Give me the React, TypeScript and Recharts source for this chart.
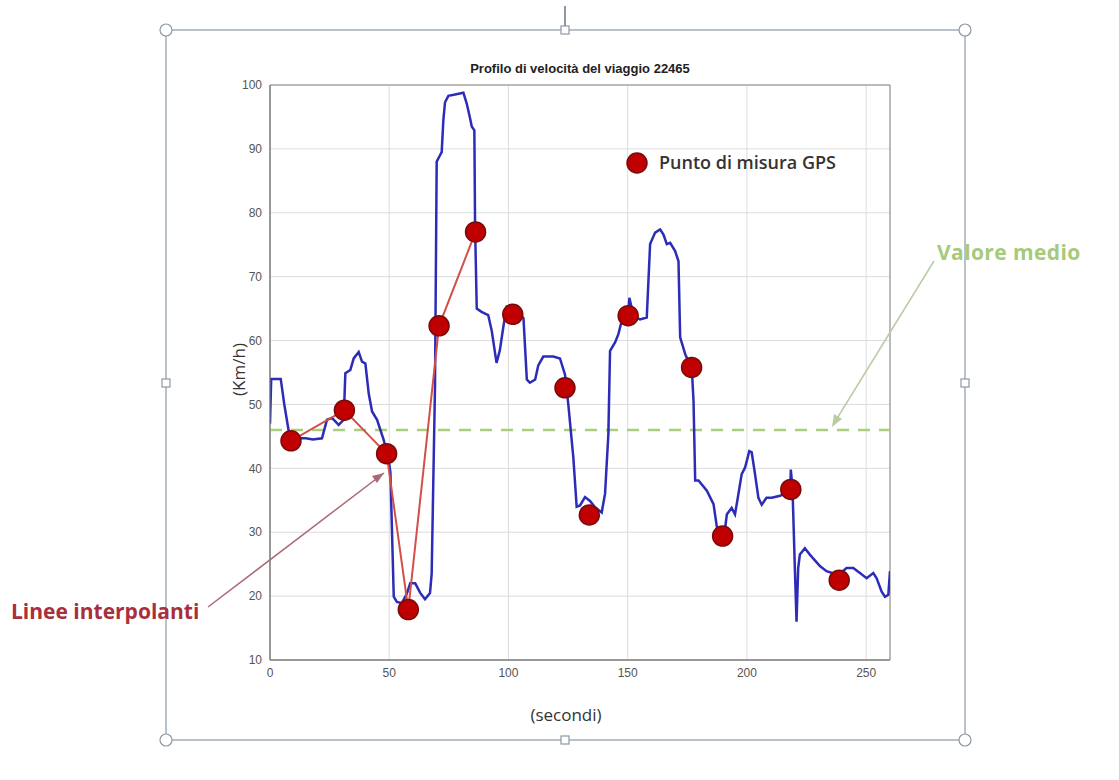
import { ComposedChart, Line, Scatter, XAxis, YAxis, CartesianGrid, ReferenceLine, ReferenceArea } from 'recharts'

// speed trace (seconds, km/h)
const traceSeconds = [
    0, 0.5, 4.5, 6, 8, 10, 13, 15, 18, 21.8, 23.9, 26, 28.8, 30.9, 31.6, 33.7, 35.1, 37.2, 38.6, 40,
    41.4, 42.8, 44.9, 47.7, 49.8, 50.5, 51.9, 53.2, 55.3, 57.4, 58.8, 60.9, 63, 65, 67.1, 67.8, 69.2, 69.9, 71.3, 72,
    72.7, 73.4, 74.8, 77.6, 81.1, 82.5, 83.9, 84.6, 85.7, 86, 86.7, 88.7, 91.5, 93, 95, 96.4, 97.8, 99.2, 100.6, 102,
    104, 106.3, 107, 107.7, 109, 111.2, 112.5, 114.6, 118.8, 121.6, 123.7, 125.1, 127.2, 128.6, 130, 132.1, 134.2, 136.3, 139.1, 140.5,
    141.9, 142.6, 144.7, 146.1, 147.5, 150.3, 150.7, 152.4, 155.2, 158, 159.4, 161.5, 163.6, 165, 166.4, 167.8, 169.9, 171.3, 172, 174.1,
    176.9, 177.6, 178.3, 179.7, 183.2, 186, 187.4, 189.5, 190.8, 191.6, 193.6, 195, 196.4, 197.8, 199.2, 201, 202, 203.4, 204.8, 206.2,
    208.2, 210.4, 213.9, 216.7, 218.2, 218.4, 219.1, 220.1, 220.8, 221.5, 222.2, 224.3, 226.4, 230.6, 233.4, 238.3, 241.8, 244.6, 247.4, 250.2,
    253, 254.4, 256.5, 257.9, 259.3, 260,
]
const traceKmh = [
    47, 54, 54, 50, 45.5, 44.5, 44.7, 44.7, 44.5, 44.7, 47.6, 47.9, 46.8, 47.6, 54.9, 55.4, 57.2, 58.2, 56.7, 56.4,
    51.7, 48.9, 47.6, 44.4, 41.3, 39.3, 19.9, 19.1, 18.9, 20.4, 22, 22, 20.5, 19.5, 20.5, 23.5, 53, 88, 89, 89.5,
    94.5, 97.3, 98.3, 98.5, 98.8, 97.1, 94.8, 93.5, 92.9, 77.8, 65, 64.5, 64, 61.5, 56.5, 58.5, 62, 65.3, 65.5, 64.5,
    64.5, 63.5, 58.7, 53.9, 53.4, 53.9, 56.1, 57.5, 57.5, 57.2, 54.7, 50, 41.7, 34, 34.2, 35.5, 34.9, 33.9, 33.1, 36,
    45.4, 58.4, 59.7, 61, 63.1, 64.5, 66.7, 63.9, 63.3, 63.6, 75.1, 76.9, 77.4, 76.6, 75.1, 75.3, 74, 72.4, 60.5, 57.9,
    55.5, 50.6, 38.1, 38.1, 36.5, 34.4, 30.8, 29.7, 30.5, 32.8, 33.8, 32.8, 35.9, 39.1, 40.1, 42.7, 42.5, 39.1, 35.4, 34.3,
    35.4, 35.4, 35.7, 36.2, 36.6, 39.8, 37, 24.4, 16, 24.4, 26.5, 27.5, 26.5, 24.7, 23.9, 23.3, 24.4, 24.4, 23.6, 22.8,
    23.6, 22.8, 20.7, 19.9, 20.2, 23.9,
]

// GPS samples
const gpsSeconds = [8.8, 31.2, 48.9, 58, 70.9, 86.2, 101.8, 123.7, 133.9, 150.2, 176.8, 189.8, 218.4, 238.7]
const gpsKmh = [44.3, 49.1, 42.3, 17.9, 62.3, 77, 64.1, 52.6, 32.7, 63.9, 55.8, 29.4, 36.7, 22.5]
const interpolatedCount = 6

const meanKmh = 46
const xTicks = [0, 50, 100, 150, 200, 250]
const yTicks = [10, 20, 30, 40, 50, 60, 70, 80, 90, 100]

const trace = traceSeconds.map((t, i) => ({ t, v: traceKmh[i] }))
const gps = gpsSeconds.map((t, i) => ({ t, v: gpsKmh[i] }))
const interp = gps.slice(0, interpolatedCount)

const TEXT_FONT = '"Open Sans", sans-serif'
const HANDLE = '#8d98a5'

const GpsDot = (props: any) => (
    <circle cx={props.cx} cy={props.cy} r={10} fill="#c00000" stroke="#7a0a0a" strokeWidth={1.5} />
)

export default function App() {
    const tickStyle = { fontSize: 12, fill: '#555', fontFamily: 'Arial, "Liberation Sans", sans-serif' }
    return (
        <div style={{ position: 'absolute', left: 0, top: 0, width: 1119, height: 780, background: '#fff' }}>
            <svg width={1119} height={780} style={{ position: 'absolute', left: 0, top: 0 }}>
                <rect x={166} y={30} width={799} height={710} fill="none" stroke="#a3adb8" strokeWidth={1.5} />
                <line x1={565} y1={6} x2={565} y2={26} stroke={HANDLE} strokeWidth={2} />
                {[[166, 30], [965, 30], [166, 740], [965, 740]].map(([x, y], i) => (
                    <circle key={i} cx={x} cy={y} r={6} fill="#fff" stroke={HANDLE} strokeWidth={1.2} />
                ))}
                {[[565, 30], [565, 740], [166, 383], [965, 383]].map(([x, y], i) => (
                    <rect key={i} x={x - 4} y={y - 4} width={8} height={8} fill="#fff" stroke={HANDLE} strokeWidth={1.2} />
                ))}
            </svg>

            <div style={{ position: 'absolute', left: 0, top: 0 }}>
                <ComposedChart width={1119} height={780} margin={{ top: 85, right: 229, bottom: 100, left: 240 }}>
                    <CartesianGrid stroke="#dcdcdc" strokeWidth={1} />
                    <XAxis
                        dataKey="t"
                        type="number"
                        domain={[0, 260]}
                        ticks={xTicks}
                        allowDataOverflow
                        height={20}
                        tick={tickStyle}
                        tickLine={false}
                        axisLine={{ stroke: '#777' }}
                    />
                    <YAxis
                        type="number"
                        domain={[10, 100]}
                        ticks={yTicks}
                        allowDataOverflow
                        width={30}
                        tick={tickStyle}
                        tickLine={false}
                        axisLine={{ stroke: '#777' }}
                    />
                    <ReferenceArea x1={0} x2={260} y1={10} y2={100} fill="none" stroke="#888" strokeWidth={1} />
                    <ReferenceLine y={meanKmh} stroke="#a9cf7e" strokeWidth={2.5} strokeDasharray="12 9" />
                    <Line
                        data={trace}
                        dataKey="v"
                        type="linear"
                        stroke="#2c2cb8"
                        strokeWidth={2.5}
                        dot={false}
                        isAnimationActive={false}
                    />
                    <Line
                        data={interp}
                        dataKey="v"
                        type="linear"
                        stroke="#d2504a"
                        strokeWidth={2}
                        dot={false}
                        isAnimationActive={false}
                    />
                    <Scatter data={gps} dataKey="v" shape={GpsDot} isAnimationActive={false} />
                </ComposedChart>
            </div>

            <svg width={1119} height={780} style={{ position: 'absolute', left: 0, top: 0, pointerEvents: 'none' }}>
                <line x1={208} y1={607} x2={384} y2={473} stroke="#a86a74" strokeWidth={1.5} />
                <path d="M384,473 L372,476 L377,483 Z" fill="#a86a74" />
                <line x1={934} y1={261} x2={833} y2={425} stroke="#b9cca6" strokeWidth={1.5} />
                <path d="M832,427 L834,414 L842,419 Z" fill="#b9cca6" />
                <circle cx={637} cy={163} r={10} fill="#c00000" stroke="#7a0a0a" strokeWidth={1.5} />
            </svg>

            <div style={{ position: 'absolute', left: 300, width: 560, top: 61, textAlign: 'center', fontFamily: 'Arial, "Liberation Sans", sans-serif', fontWeight: 700, fontSize: 13, color: '#222', whiteSpace: 'nowrap' }}>
                Profilo di velocità del viaggio 22465
            </div>
            <div style={{ position: 'absolute', left: 659, top: 150, fontFamily: TEXT_FONT, fontWeight: 600, fontSize: 18, color: '#333', whiteSpace: 'nowrap' }}>
                Punto di misura GPS
            </div>
            <div style={{ position: 'absolute', left: 937, top: 238, fontFamily: TEXT_FONT, fontWeight: 700, fontSize: 21, color: '#a6ca7c', whiteSpace: 'nowrap', letterSpacing: 0.4 }}>
                Valore medio
            </div>
            <div style={{ position: 'absolute', left: 11, top: 597, fontFamily: TEXT_FONT, fontWeight: 700, fontSize: 21, color: '#a8303e', whiteSpace: 'nowrap' }}>
                Linee interpolanti
            </div>
            <div style={{ position: 'absolute', left: 466, width: 200, top: 703, textAlign: 'center', fontFamily: TEXT_FONT, fontSize: 17, color: '#333' }}>
                (secondi)
            </div>
            <div style={{ position: 'absolute', left: 238, top: 370, width: 0, height: 0 }}>
                <div style={{ position: 'absolute', left: -50, top: -12, width: 100, textAlign: 'center', transform: 'rotate(-90deg)', fontFamily: TEXT_FONT, fontSize: 17, color: '#333', whiteSpace: 'nowrap' }}>
                    (Km/h)
                </div>
            </div>
        </div>
    )
}
